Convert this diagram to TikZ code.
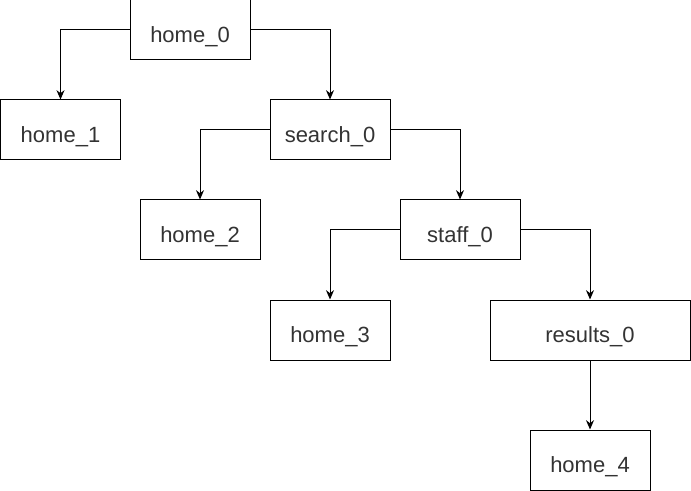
\documentclass[tikz,border=0pt]{standalone}
\usepackage{fontspec}
\setmainfont{Liberation Sans}
\usepackage{xcolor}
\usetikzlibrary{arrows.meta}
\definecolor{labelgray}{HTML}{333333}

\begin{document}
\begin{tikzpicture}[
    x=0.75pt, y=-0.75pt,
    page/.style={rectangle, draw=black, fill=white, line width=0.75pt,
                minimum width=90pt, minimum height=45pt, inner sep=0pt,
                text height=22.5pt, text depth=3.5pt,
                font=\fontsize{16.5}{20}\selectfont, text=labelgray},
    widepage/.style={page, minimum width=150pt},
    arrow/.style={-{Stealth[length=7pt,width=6pt]}, line width=0.75pt}
]
\useasboundingbox (0,0) rectangle (691,491);

% Pages, top to bottom
\node[page] at (190,30) (home0) {home\_0};
\node[page] at (60.5,130) (home1) {home\_1};
\node[page] at (330,130) (search0) {search\_0};
\node[page] at (200,230) (home2) {home\_2};
\node[page] at (460,230) (staff0) {staff\_0};
\node[page] at (330,330) (home3) {home\_3};
\node[widepage] at (590,330) (results0) {results\_0};
\node[page] at (590,460) (home4) {home\_4};

% Links
\draw[arrow] (home0.west) -| (home1.north);
\draw[arrow] (home0.east) -| (search0.north);
\draw[arrow] (search0.west) -| (home2.north);
\draw[arrow] (search0.east) -| (staff0.north);
\draw[arrow] (staff0.west) -| (home3.north);
\draw[arrow] (staff0.east) -| (results0.north);
\draw[arrow] (results0.south) -- (home4.north);

\end{tikzpicture}
\end{document}
